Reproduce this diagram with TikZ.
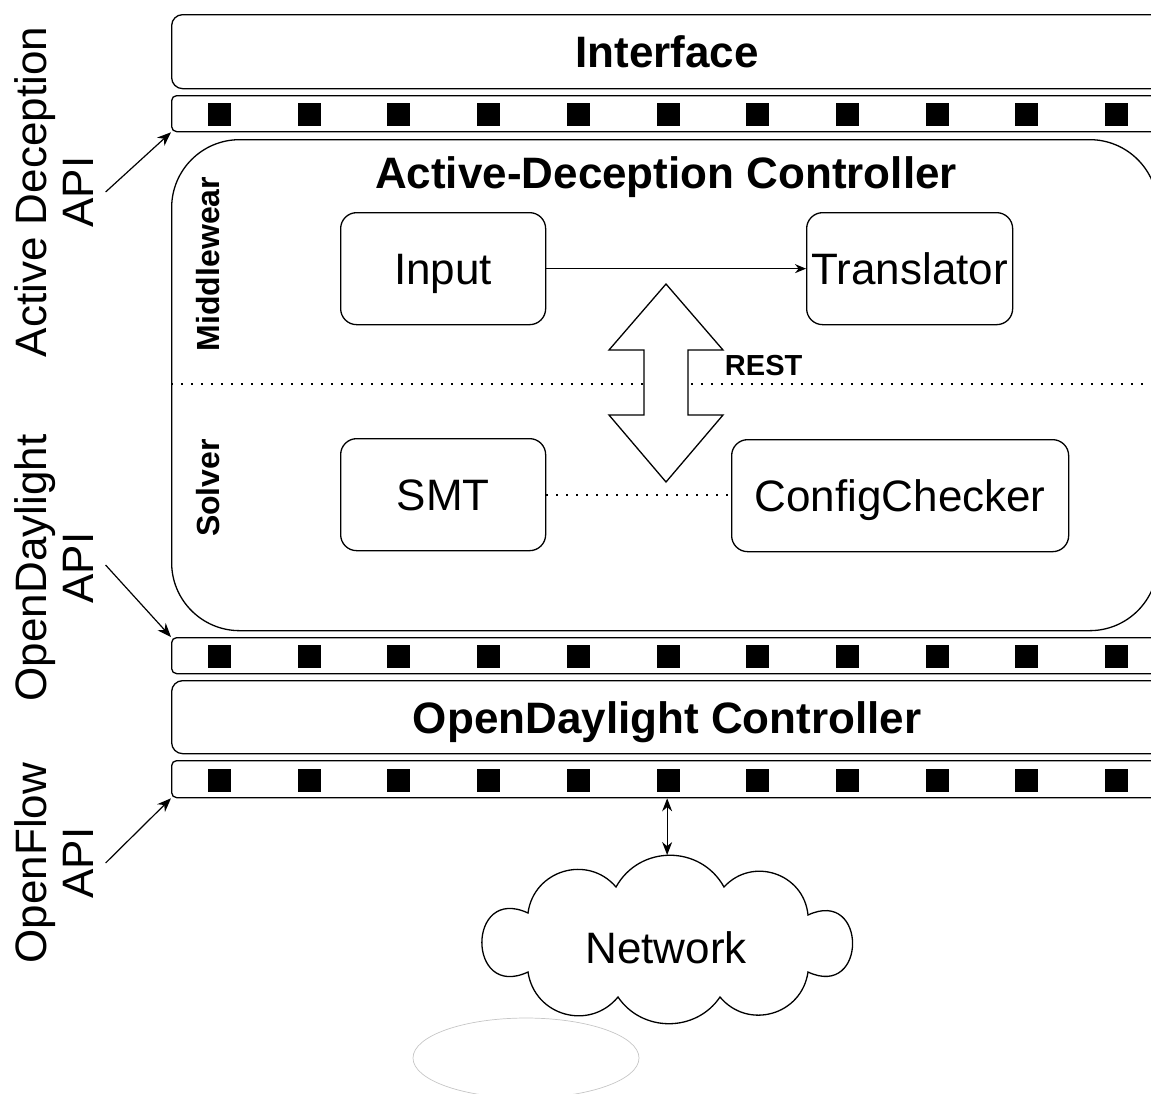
\documentclass[tikz,border=0pt]{standalone}
\usepackage{fontspec}
\setmainfont{Liberation Sans}
\usetikzlibrary{arrows.meta,calc}

\begin{document}
\begin{tikzpicture}[x=1pt,y=-1pt,line width=1.3pt,
    box/.style={draw, rounded corners=16pt, inner sep=0pt, anchor=north west,
      text height=32pt, text depth=0pt, font=\fontsize{44}{47}\selectfont},
    bar/.style={draw, rounded corners=5pt, inner sep=0pt, anchor=north west, minimum width=991pt},
    sq/.style={fill=black, inner sep=0pt, minimum size=23pt},
    side/.style={rotate=90, align=center, inner sep=0pt, font=\fontsize{44}{47}\selectfont},
    part/.style={rotate=90, inner sep=0pt, font=\fontsize{32}{35}\selectfont\bfseries},
    api/.style={-{Stealth[length=14pt,width=11pt]}, line width=1.2pt},
    dots/.style={line width=2.3pt, dash pattern=on 2pt off 8pt}]
  \useasboundingbox (0,0) rectangle (1151,1093);
  \clip (0,0) rectangle (1151,1093);

  % layers
  \node[box, minimum width=991pt, minimum height=74pt, rounded corners=11pt,
    font=\fontsize{44}{47}\selectfont\bfseries] (iface) at (171,14) {Interface};
  \node[bar, minimum height=36pt] (bar1) at (171,95) {};
  \node[draw, rounded corners=68pt, minimum width=986pt, minimum height=491pt,
    anchor=north west] (adc) at (171,139) {};
  \node[anchor=base, font=\fontsize{44}{47}\selectfont\bfseries] (adctitle) at (666,188)
    {Active-Deception Controller};
  \node[bar, minimum height=36pt] (bar2) at (171,637) {};
  \node[box, minimum width=991pt, minimum height=73pt, rounded corners=11pt,
    font=\fontsize{44}{47}\selectfont\bfseries] (odl) at (171,680) {OpenDaylight Controller};
  \node[bar, minimum height=37pt] (bar3) at (171,760) {};

  % ports on the API bars
  \foreach \b in {bar1,bar2,bar3}
    \foreach \i in {0,...,10}
      \node[sq] (\b-\i) at ($(\b.west)+(48.5+89.7*\i,1)$) {};

  % sections
  \node[part] (mw) at (208,264) {Middlewear};
  \node[part] (solver) at (208,488) {Solver};
  \draw[dots] (171,384) -- (1157,384);

  \node[box, minimum width=205pt, minimum height=112pt] (input) at (340,212) {Input};
  \node[box, minimum width=206pt, minimum height=112pt] (trans) at (806,212) {Translator};
  \node[box, minimum width=205pt, minimum height=112pt] (smt) at (340,438) {SMT};
  \node[box, minimum width=337pt, minimum height=112pt] (cfg) at (731,439) {ConfigChecker};
  \draw[-{Stealth[length=11pt,width=9pt]}, line width=1.2pt] (input) -- (trans);
  \draw[dots] (smt.east) -- (smt.east -| cfg.west);

  % REST block arrow
  \draw[fill=white] (666,284) -- (723,350) -- (688,350) -- (688,415) -- (723,415)
    -- (666,482) -- (609,415) -- (644,415) -- (644,350) -- (609,350) -- cycle;
  \node[anchor=base west, font=\fontsize{29}{32}\selectfont\bfseries] (rest) at (721,375) {REST};

  % API labels
  \node[side] (adapi) at (54.5,192) {Active Deception\\API};
  \node[side] (odapi) at (54.5,568) {OpenDaylight\\API};
  \node[side] (ofapi) at (54.5,863) {OpenFlow\\API};
  \draw[api] ([xshift=11pt]adapi.south) -- (bar1.south west);
  \draw[api] ([xshift=11pt,yshift=3pt]odapi.south) -- (bar2.north west);
  \draw[api] ([xshift=11pt]ofapi.south) -- (bar3.south west);

  % network
  \draw[gray!45, line width=0.7pt] (526,1058) ellipse [x radius=113, y radius=40];
  \draw[fill=white] (528,913) to[bend left=66, looseness=1.21] (616,887)
    to[bend left=61, looseness=1.15] (724,887)
    to[bend left=66, looseness=1.21] (808,915)
    to[bend left=115, looseness=2.95] (808,972)
    to[bend left=66, looseness=1.22] (720,997)
    to[bend left=56, looseness=1.08] (618,997)
    to[bend left=66, looseness=1.22] (528,972)
    to[bend left=115, looseness=2.95] (528,913) -- cycle;
  \node[anchor=base, font=\fontsize{44}{47}\selectfont] (net) at (666,963) {Network};
  \coordinate (cloudtop) at (668,855);
  \draw[{Stealth[length=13pt,width=10pt]}-{Stealth[length=13pt,width=10pt]}, line width=1.2pt]
    (bar3.south) -- (bar3.south |- cloudtop);
\end{tikzpicture}
\end{document}
